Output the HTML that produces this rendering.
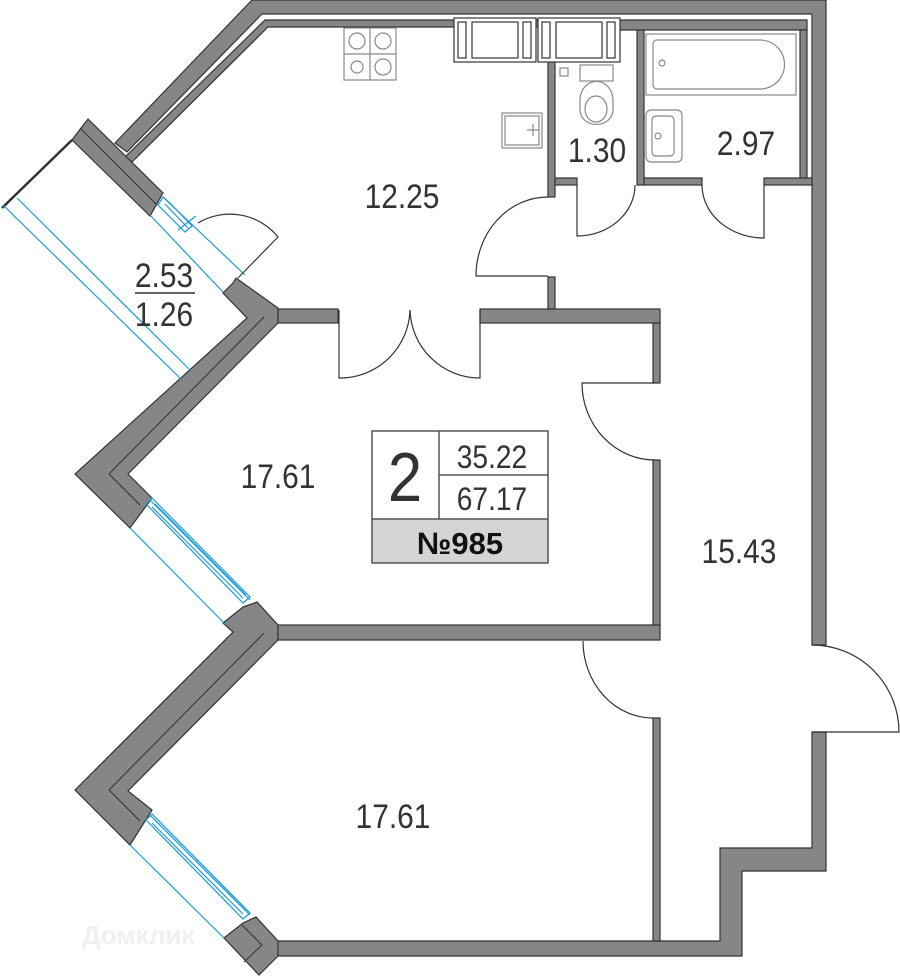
<!DOCTYPE html>
<html><head><meta charset="utf-8"><style>
html,body{margin:0;padding:0;background:#fff}
svg{display:block}
text{font-family:"Liberation Sans",sans-serif;fill:#333}
</style></head><body>
<svg width="900" height="976" viewBox="0 0 900 976" xmlns="http://www.w3.org/2000/svg">
<g fill="#858688" stroke="#333" stroke-width="1.2" stroke-linejoin="miter">
<polygon points="252,0 826,0 826,645 812,645 812,14 262,14 127,152 115,143"/>
<polygon points="265,20 807,20 807,30 620,30 620,27 268,27 131,163 125,157"/>
<polygon points="812,732 826,732 826,871 742,871 742,956 270,956 270,941 720,941 720,848 812,848"/>
<polygon points="88,119 163,193 150,216 72,140"/>
<polygon points="236,278 278,308 278,323 128,474 152,498 130,528 75,474 247,318 223,293 233,283"/>
<polygon points="243,607 257,602 278,625 278,640 128,791 152,810 130,845 75,790 233,632 223,623"/>
<polygon points="224,938 243,923 256,917 278,941 278,956 259,975"/>
<rect x="278" y="309" width="60" height="14"/>
<rect x="480" y="309" width="180" height="14"/>
<rect x="278" y="625" width="382" height="15"/>
<rect x="653" y="323" width="7" height="60"/>
<rect x="653" y="460" width="7" height="165"/>
<rect x="653" y="718" width="7" height="223"/>
<rect x="548" y="62" width="7" height="135"/>
<rect x="548" y="277" width="7" height="32"/>
<rect x="637" y="30" width="7" height="155"/>
<rect x="800" y="30" width="7" height="148"/>
<rect x="555" y="178" width="22" height="7"/>
<rect x="644" y="178" width="58" height="7"/>
<rect x="764" y="178" width="48" height="7"/>
</g>
<g fill="none" stroke="#333" stroke-width="1">
<polyline points="264,317 109,474 140,505"/>
<polyline points="264,633 109,790 140,821"/>
<polyline points="242,925 262,945 244,962"/>
<line x1="80" y1="128" x2="157" y2="205"/>
</g>
<line x1="72" y1="140" x2="2" y2="208" stroke="#333" stroke-width="2.5"/>
<g fill="none" stroke="#1a9ad6" stroke-width="1.2">
<line x1="3" y1="205" x2="182" y2="380"/>
<line x1="17" y1="198" x2="190" y2="370"/>
<line x1="150" y1="215" x2="223" y2="292"/>
<line x1="163" y1="197" x2="245" y2="275"/>
<polygon points="163,197 170,203 192,226 185,232 158,205"/>
<line x1="165" y1="204" x2="188" y2="228"/>
<line x1="178" y1="230" x2="196" y2="216"/>
<line x1="130" y1="528" x2="226" y2="625"/>
<line x1="150" y1="500" x2="250" y2="600"/>
<polygon points="146,504 152,498 250,597 243,603"/>
<line x1="152" y1="507" x2="243" y2="598"/>
<line x1="155" y1="504" x2="246" y2="595"/>
<line x1="130" y1="845" x2="224" y2="938"/>
<line x1="150" y1="815" x2="250" y2="915"/>
<polygon points="146,820 152,814 250,913 243,919"/>
<line x1="152" y1="823" x2="243" y2="914"/>
<line x1="155" y1="820" x2="246" y2="911"/>
</g>
<g fill="none" stroke="#333" stroke-width="1.2">
<path d="M339,310 L339,378 A70,70 0 0 0 410,310"/>
<path d="M480,310 L480,378 A70,70 0 0 1 410,310"/>
<path d="M548,197 A72,79 0 0 0 476,276 L548,276"/>
<path d="M577,185 L577,236 A58,51 0 0 0 635,185"/>
<path d="M702,185 A62,53 0 0 0 764,238 L764,185"/>
<path d="M655,383 L582,383 A73,77 0 0 0 655,460"/>
<path d="M583,641 A70,77 0 0 0 653,718"/>
<path d="M812,645 A87,87 0 0 1 899,732 L813,732"/>
<path d="M198,223 A62,62 0 0 1 278,237 L238,278"/>
</g>
<g fill="#fff" stroke="#333" stroke-width="1.2">
<rect x="454" y="18" width="82" height="44"/>
<rect x="458" y="22" width="8" height="36"/>
<rect x="472" y="22" width="46" height="36"/>
<rect x="523" y="22" width="8" height="36"/>
<rect x="538" y="18" width="82" height="44"/>
<rect x="542" y="22" width="8" height="36"/>
<rect x="556" y="22" width="46" height="36"/>
<rect x="607" y="22" width="8" height="36"/>
</g>
<g fill="none" stroke="#888" stroke-width="1.2">
<rect x="344" y="28" width="52" height="52"/>
<line x1="370" y1="28" x2="370" y2="80"/><line x1="344" y1="54" x2="396" y2="54"/>
<circle cx="357" cy="41" r="8"/><circle cx="383" cy="41" r="8"/>
<circle cx="357" cy="67" r="6"/><circle cx="383" cy="67" r="8"/>
<rect x="502" y="113" width="40" height="35"/><rect x="505" y="116" width="34" height="29"/>
<line x1="533" y1="124" x2="533" y2="136"/><line x1="527" y1="130" x2="539" y2="130"/>
<rect x="560" y="68" width="8" height="8"/>
<rect x="580" y="65" width="33" height="16"/>
<path d="M580,100 A16,18 0 0 1 613,100 L613,110 A16,14 0 0 1 580,110 Z"/>
<ellipse cx="596" cy="109" rx="11" ry="13"/>
<rect x="646" y="34" width="150" height="61"/>
<path d="M656,40 L760,40 A24,24 0 0 1 760,89 L656,89 A5,5 0 0 1 653,84 L653,45 A5,5 0 0 1 656,40 Z"/>
<circle cx="662" cy="63" r="3"/>
<rect x="646" y="110" width="36" height="52" rx="5"/>
<rect x="652" y="116" width="22" height="40" rx="4"/>
<circle cx="658" cy="136" r="3"/>
</g>
<g font-size="34">
<text x="402" y="208" text-anchor="middle" transform="translate(402,0) scale(0.88,1) translate(-402,0)">12.25</text>
<text x="597" y="162" text-anchor="middle" transform="translate(597,0) scale(0.88,1) translate(-597,0)">1.30</text>
<text x="746" y="155" text-anchor="middle" transform="translate(746,0) scale(0.88,1) translate(-746,0)">2.97</text>
<text x="164" y="287" text-anchor="middle" transform="translate(164,0) scale(0.88,1) translate(-164,0)">2.53</text>
<text x="164" y="326" text-anchor="middle" transform="translate(164,0) scale(0.88,1) translate(-164,0)">1.26</text>
<text x="278" y="488" text-anchor="middle" transform="translate(278,0) scale(0.88,1) translate(-278,0)">17.61</text>
<text x="739" y="563" text-anchor="middle" transform="translate(739,0) scale(0.88,1) translate(-739,0)">15.43</text>
<text x="393" y="828" text-anchor="middle" transform="translate(393,0) scale(0.88,1) translate(-393,0)">17.61</text>
</g>
<line x1="135" y1="293" x2="195" y2="293" stroke="#333" stroke-width="1.5"/>
<rect x="372" y="519" width="176" height="44" fill="#d4d4d6"/>
<g fill="none" stroke="#555" stroke-width="1.5">
<rect x="372" y="431" width="176" height="132"/>
<line x1="439" y1="431" x2="439" y2="519"/>
<line x1="439" y1="475" x2="548" y2="475"/>
<line x1="372" y1="519" x2="548" y2="519"/>
</g>
<text x="405" y="501" font-size="70" text-anchor="middle" transform="translate(405,0) scale(0.88,1) translate(-405,0)">2</text>
<text x="492" y="468" font-size="32" text-anchor="middle" transform="translate(492,0) scale(0.88,1) translate(-492,0)">35.22</text>
<text x="492" y="510" font-size="32" text-anchor="middle" transform="translate(492,0) scale(0.88,1) translate(-492,0)">67.17</text>
<text x="460" y="554" font-size="31" font-weight="bold" text-anchor="middle" style="fill:#111">№985</text>
<text x="82" y="944" font-size="26" font-weight="bold" style="fill:#f0f0f0">Домклик</text>
</svg>
</body></html>
